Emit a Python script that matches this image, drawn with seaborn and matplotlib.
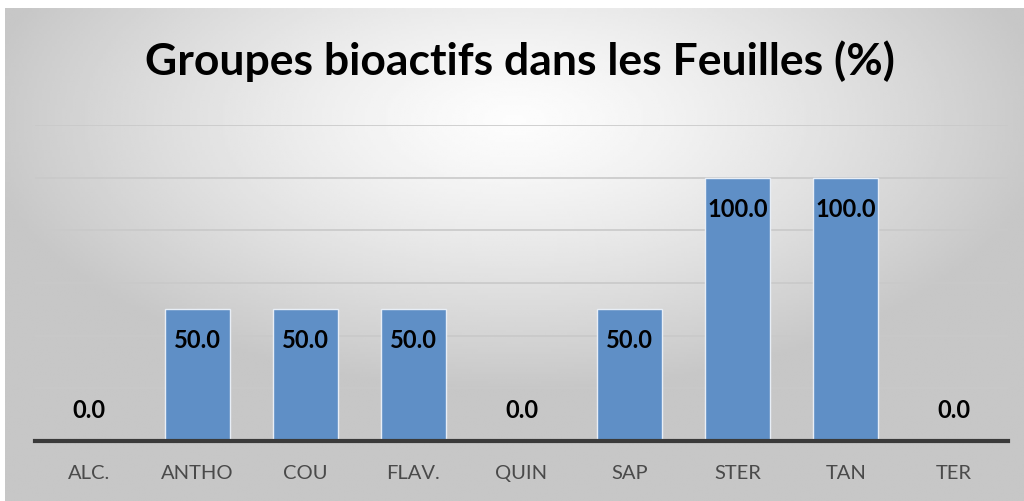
import numpy as np
import pandas as pd
import matplotlib
matplotlib.use("Agg")
import matplotlib.pyplot as plt
import seaborn as sns

# données
groupes = ["ALC.", "ANTHO", "COU", "FLAV.", "QUIN", "SAP", "STER", "TAN", "TER"]
valeurs = [0.0, 50.0, 50.0, 50.0, 0.0, 50.0, 100.0, 100.0, 0.0]
titre = "Groupes bioactifs dans les Feuilles (%)"

df = pd.DataFrame({"Groupe": groupes, "Valeur": valeurs})

sns.set_theme(style="white")
plt.rcParams["font.family"] = ["Lato", "DejaVu Sans"]

fig = plt.figure(figsize=(10.24, 5.01), dpi=100)
fig.patch.set_facecolor("white")

# fond en dégradé radial (clair au centre haut, gris sur les bords)
bg = fig.add_axes([5 / 1024, 0, 1 - 5 / 1024, 1 - 8 / 501])
gx, gy = np.meshgrid(np.linspace(-1, 1, 400), np.linspace(-1, 1, 200))
r = np.sqrt((gx / 1.05) ** 2 + ((gy + 0.55) / 1.1) ** 2)
r = np.clip(r, 0, 1)
shade = 0.99 - 0.21 * r ** 1.3
bg.imshow(shade, cmap="gray", vmin=0, vmax=1, aspect="auto", extent=[0, 1, 0, 1])
bg.set_axis_off()

ax = fig.add_axes([35 / 1024, (501 - 441) / 501, (1008 - 35) / 1024, (441 - 125) / 501])
ax.set_facecolor("none")

sns.barplot(data=df, x="Groupe", y="Valeur", color="#5f8fc6", saturation=1,
            width=0.6, edgecolor="#e8eef6", linewidth=1, ax=ax, zorder=3)

ax.set_ylim(0, 120)
ax.set_yticks(np.arange(20, 121, 20))
ax.yaxis.grid(True, color="#c9c9c9", linewidth=1.2, zorder=0)
ax.set_axisbelow(True)
ax.tick_params(axis="y", left=False, labelleft=False)
ax.tick_params(axis="x", bottom=False, labelsize=14.5, labelcolor="#4a4a4a", pad=11)
ax.set_xlabel("")
ax.set_ylabel("")
for s in ["top", "right", "left"]:
    ax.spines[s].set_visible(False)
ax.spines["bottom"].set_color("#3a3a3a")
ax.spines["bottom"].set_linewidth(3)
ax.spines["bottom"].set_zorder(5)

for i, v in enumerate(valeurs):
    ypos = v - 12 if v > 0 else 11.5
    ax.text(i, ypos, f"{v:.1f}", ha="center", va="center", fontsize=17,
            fontweight="bold", color="black", zorder=6)

fig.text(0.508, 0.877, titre, ha="center", va="center", fontsize=32,
         fontweight="bold", color="black")

fig.savefig("out.png", dpi=100, facecolor=fig.get_facecolor())
